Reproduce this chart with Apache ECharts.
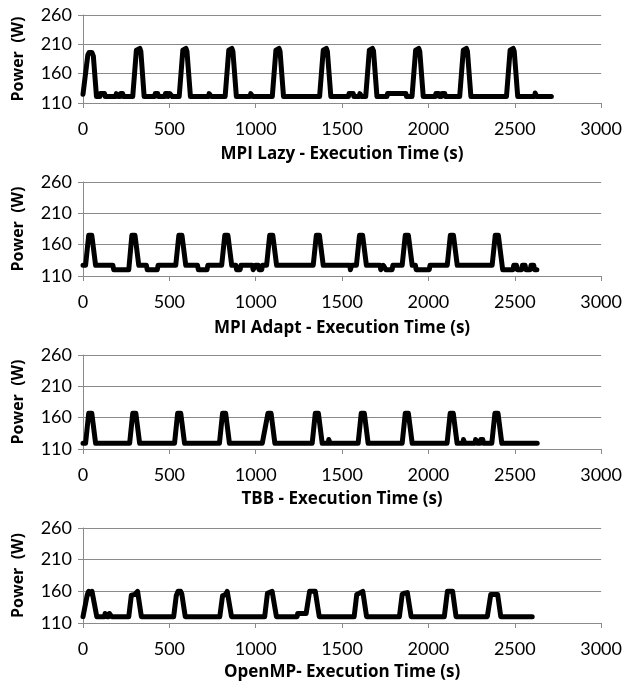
<!DOCTYPE html>
<html>
<head>
<meta charset="utf-8">
<script src="https://cdn.jsdelivr.net/npm/echarts@6/dist/echarts.min.js"></script>
<style>
  html, body { margin: 0; padding: 0; background: #fff; }
  #chart { width: 625px; height: 688px; }
</style>
</head>
<body>
<div id="chart"></div>
<script>
// axis ticks
const xTicks = [0, 500, 1000, 1500, 2000, 2500, 3000]
const yTicks = [110, 160, 210, 260]

const panelTitles = [
  'MPI Lazy - Execution Time (s)',
  'MPI Adapt - Execution Time (s)',
  'TBB - Execution Time (s)',
  'OpenMP- Execution Time (s)'
]

// [time (s), power (W)]
const lazyPts = [
  [0, 125], [8, 124], [28, 192], [35, 196], [52, 196], [60, 190], [78, 121],
  [98, 121], [100, 126], [125, 126], [128, 121], [190, 121], [193, 126], [200, 126], [203, 121],
  [215, 121], [218, 126], [230, 126], [233, 121],
  [288, 121], [309, 200], [315, 203], [329, 203], [335, 198], [354, 121],
  [415, 121], [418, 126], [433, 126], [436, 121], [474, 121], [477, 126], [490, 126], [493, 121],
  [500, 121], [503, 126], [514, 126], [517, 121],
  [557, 121], [578, 200], [584, 203], [596, 203], [602, 198], [622, 121],
  [727, 121], [730, 126], [740, 126], [743, 121],
  [823, 121], [844, 200], [850, 203], [862, 203], [868, 198], [888, 121],
  [968, 121], [971, 126], [980, 126], [983, 121],
  [1096, 121], [1117, 200], [1123, 203], [1135, 203], [1141, 198], [1161, 121],
  [1370, 121], [1391, 200], [1397, 203], [1409, 203], [1415, 198], [1435, 121],
  [1537, 121], [1540, 126], [1565, 126], [1568, 121], [1600, 121], [1603, 126], [1610, 126], [1613, 121],
  [1637, 121], [1658, 200], [1664, 203], [1676, 203], [1682, 199], [1702, 121],
  [1760, 121], [1763, 126], [1870, 126], [1873, 121],
  [1905, 121], [1926, 200], [1932, 203], [1944, 203], [1950, 198], [1970, 121],
  [2040, 121], [2043, 126], [2060, 126], [2063, 121], [2075, 121], [2078, 126], [2095, 126], [2098, 121],
  [2181, 121], [2202, 200], [2208, 203], [2220, 203], [2226, 198], [2246, 121],
  [2452, 121], [2473, 200], [2479, 203], [2491, 203], [2497, 198], [2517, 121],
  [2615, 121], [2618, 127], [2625, 127], [2628, 121], [2712, 121]
]

const adaptPts = [
  [0, 127], [15, 127], [33, 175], [51, 175], [73, 127],
  [173, 127], [178, 120], [265, 120], [283, 175], [301, 175], [323, 127],
  [367, 127], [372, 120], [430, 120], [435, 127],
  [537, 127], [555, 175], [573, 175], [595, 127],
  [663, 127], [668, 120], [718, 120], [723, 127],
  [803, 127], [821, 175], [839, 175], [861, 127],
  [885, 127], [889, 120], [910, 120], [914, 127], [981, 127], [985, 120], [995, 120], [999, 127],
  [1015, 127], [1019, 120], [1035, 120], [1039, 127],
  [1063, 127], [1081, 175], [1099, 175], [1121, 127],
  [1333, 127], [1351, 175], [1369, 175], [1391, 127],
  [1545, 127], [1548, 120], [1552, 120], [1556, 127],
  [1583, 127], [1601, 175], [1619, 175], [1641, 127],
  [1720, 127], [1724, 120], [1735, 120], [1739, 127], [1750, 127], [1754, 120], [1790, 120], [1794, 127],
  [1848, 127], [1866, 175], [1884, 175], [1906, 127],
  [1925, 127], [1929, 120], [2005, 120], [2009, 127],
  [2109, 127], [2127, 175], [2145, 175], [2167, 127],
  [2369, 127], [2387, 175], [2405, 175], [2430, 120],
  [2490, 120], [2494, 127], [2510, 127], [2514, 120], [2540, 120], [2544, 127], [2560, 127], [2564, 120],
  [2590, 120], [2594, 127], [2610, 127], [2614, 120], [2628, 120]
]

const tbbPts = [
  [0, 119], [15, 119], [33, 167], [51, 167], [73, 119],
  [270, 119], [288, 167], [306, 167], [328, 119],
  [530, 119], [548, 167], [566, 167], [588, 119],
  [790, 119], [808, 167], [826, 167], [848, 119],
  [1038, 119], [1042, 125], [1053, 125], [1071, 167], [1089, 167], [1111, 119],
  [1327, 119], [1345, 167], [1363, 167], [1385, 119],
  [1420, 119], [1423, 125], [1428, 125], [1431, 119],
  [1593, 119], [1611, 167], [1629, 167], [1651, 119],
  [1848, 119], [1866, 167], [1884, 167], [1906, 119],
  [2108, 119], [2126, 167], [2144, 167], [2166, 119],
  [2200, 119], [2203, 125], [2208, 125], [2211, 119], [2270, 119], [2273, 125], [2283, 125], [2286, 119],
  [2300, 119], [2303, 125], [2315, 125], [2318, 119],
  [2367, 119], [2385, 167], [2403, 167], [2425, 119], [2630, 119]
]

const ompPts = [
  [0, 120], [8, 120], [25, 155], [33, 160], [40, 160], [45, 156], [52, 160], [58, 160], [80, 120],
  [125, 120], [128, 125], [135, 125], [138, 120], [150, 120], [153, 125], [163, 125], [166, 120],
  [265, 120], [280, 154], [300, 155], [310, 158], [316, 160], [321, 160], [338, 120],
  [525, 120], [540, 153], [550, 160], [565, 160], [572, 156], [592, 120],
  [792, 120], [808, 153], [825, 155], [835, 160], [840, 160], [860, 120],
  [1052, 120], [1068, 157], [1075, 160], [1095, 160], [1102, 157], [1120, 120],
  [1240, 120], [1243, 125], [1292, 125], [1312, 160], [1345, 160], [1368, 120],
  [1570, 120], [1585, 155], [1600, 157], [1610, 160], [1620, 160], [1642, 120],
  [1832, 120], [1848, 155], [1860, 157], [1870, 160], [1878, 158], [1900, 120],
  [2092, 120], [2110, 160], [2140, 160], [2160, 120],
  [2341, 120], [2361, 155], [2401, 155], [2419, 120], [2601, 120]
]

const panelData = [lazyPts, adaptPts, tbbPts, ompPts]

const FONT = 'Lato'
const BOLD_FONT = 'Open Sans'
const gridBoxes = [
  { top: 15, height: 88 },
  { top: 182, height: 94 },
  { top: 355, height: 94 },
  { top: 528, height: 95 }
]
const titleGaps = [43, 44, 42, 41]

const chart = echarts.init(document.getElementById('chart'))

const option = {
  animation: false,
  backgroundColor: '#fff',
  grid: gridBoxes.map((g) => ({ left: 83, right: 23, top: g.top, height: g.height })),
  xAxis: gridBoxes.map((g, i) => ({
    type: 'value',
    gridIndex: i,
    min: xTicks[0],
    max: xTicks[xTicks.length - 1],
    interval: xTicks[1] - xTicks[0],
    name: panelTitles[i],
    nameLocation: 'middle',
    nameGap: titleGaps[i],
    nameTextStyle: { fontFamily: BOLD_FONT, fontSize: 17, fontWeight: 'bold', color: '#000' },
    axisLine: { show: true, lineStyle: { color: '#8a8a8a', width: 1 } },
    axisTick: { show: true, length: 5, lineStyle: { color: '#8a8a8a' } },
    axisLabel: { fontFamily: FONT, fontSize: 18, color: '#000', margin: 17, formatter: (v) => String(v) },
    splitLine: { show: false }
  })),
  yAxis: gridBoxes.map((g, i) => ({
    type: 'value',
    gridIndex: i,
    min: yTicks[0],
    max: yTicks[yTicks.length - 1],
    interval: yTicks[1] - yTicks[0],
    name: 'Power  (W)',
    nameLocation: 'middle',
    nameGap: 57,
    nameTextStyle: { fontFamily: BOLD_FONT, fontSize: 16, fontWeight: 'bold', color: '#000' },
    axisLine: { show: true, lineStyle: { color: '#8a8a8a', width: 1 } },
    axisTick: { show: true, length: 5, lineStyle: { color: '#8a8a8a' } },
    axisLabel: { fontFamily: FONT, fontSize: 18, color: '#000', margin: 11, formatter: (v) => String(v) },
    splitLine: { show: true, lineStyle: { color: '#8a8a8a', width: 1 } }
  })),
  series: panelData.map((pts, i) => ({
    type: 'line',
    xAxisIndex: i,
    yAxisIndex: i,
    data: pts,
    showSymbol: false,
    symbol: 'none',
    lineStyle: { color: '#000', width: 5, join: 'round', cap: 'round' }
  }))
}

chart.setOption(option)
</script>
</body>
</html>
